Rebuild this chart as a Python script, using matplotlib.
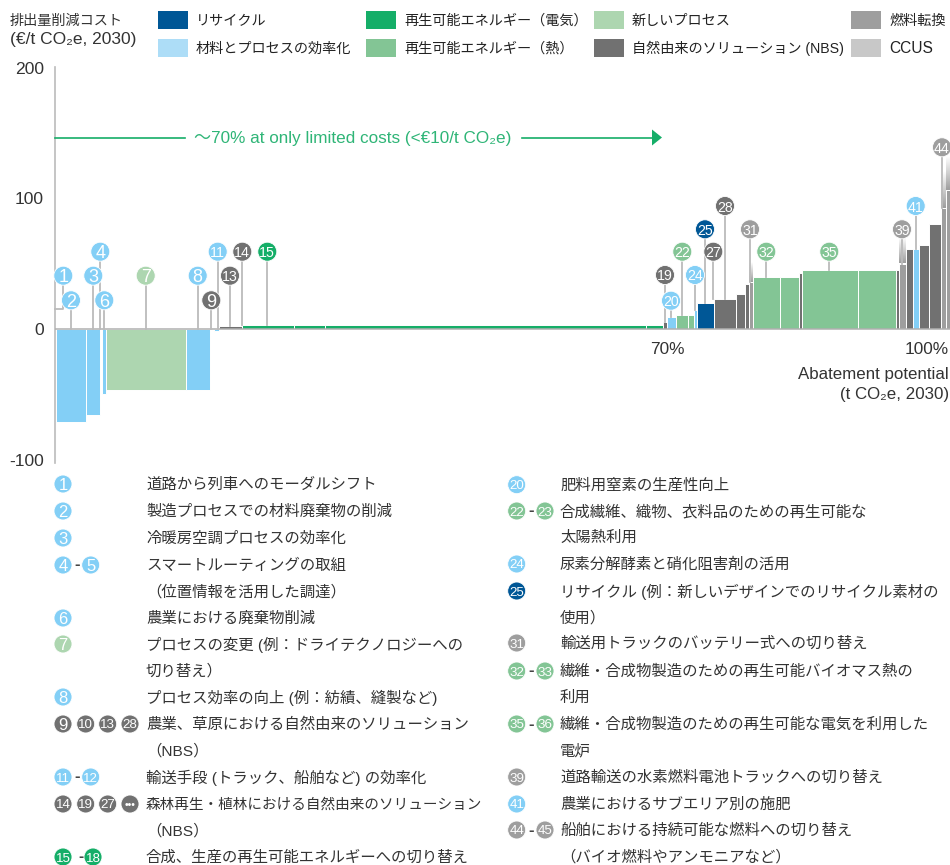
import numpy as np
import matplotlib
matplotlib.use("Agg")
import matplotlib.pyplot as plt
from matplotlib.patches import Circle, Rectangle

plt.rcParams["font.family"] = ["Liberation Sans", "Noto Sans CJK JP", "DejaVu Sans"]

# abatement curve: width in % of potential, cost in EUR/t, lever group
bar_widths = [0.15, 3.43, 1.60, 0.23, 0.48, 9.07, 2.79, 0.40, 0.61, 2.63,
              5.90, 3.59, 36.69, 2.04, 0.38, 1.05, 1.34, 0.69, 0.38, 1.91,
              2.61, 1.00, 0.38, 0.46, 3.18, 2.09, 0.37, 6.37, 4.35, 0.38,
              0.78, 0.87, 0.62, 1.17, 1.35, 0.56, 1.09]
bar_values = [-100, -71, -65.7, -0.3, -49.6, -46.3, -46.3, 0.5, -1.5, 2,
              3.4, 3.4, 3.4, 3.4, 5, 9, 10.7, 10.7, 14.3, 19.6,
              23, 27, 34, 36, 39.5, 39.5, 42.8, 44.8, 44.8, 44.8,
              50, 60.8, 60.8, 64.4, 80.4, 92, 106]
bar_groups = ["eff", "eff", "eff", "eff", "eff", "proc", "eff", "nbs", "eff", "nbs",
              "elec", "elec", "elec", "elec", "nbs", "eff", "heat", "heat", "eff", "rec",
              "nbs", "nbs", "nbs", "fuel", "heat", "heat", "nbs", "heat", "heat", "nbs",
              "fuel", "nbs", "eff", "nbs", "nbs", "fuel", "fuel"]

colors = {"rec": "#005796", "eff": "#83CFF6", "elec": "#15AE68", "heat": "#83C595",
          "proc": "#ADD6B0", "nbs": "#717171", "fuel": "#9E9E9E", "ccus": "#C8C8C8"}

legend_items = [("リサイクル", "rec", 158, 20), ("材料とプロセスの効率化", "eff_light", 158, 48),
                ("再生可能エネルギー（電気）", "elec", 366, 20), ("再生可能エネルギー（熱）", "heat", 366, 48),
                ("新しいプロセス", "proc", 594, 20), ("自然由来のソリューション (NBS)", "nbs", 594, 48),
                ("燃料転換", "fuel", 851, 20), ("CCUS", "ccus", 851, 48)]

# number, group, x, y, cost where the leader stops
chart_badges = [("1", "eff", 63.3, 275.7, 15), ("2", "eff", 71, 300.3, 0), ("3", "eff", 93.3, 275.7, 0),
                ("4", "eff", 100.3, 251.7, 0), ("6", "eff", 104.3, 300.3, 0), ("7", "proc", 145.7, 275.7, 0),
                ("8", "eff", 197.7, 275.7, 0), ("9", "nbs", 211.3, 300.3, 0), ("11", "eff", 217.7, 251.7, 0),
                ("13", "nbs", 230, 275.7, 2), ("14", "nbs", 242.3, 251.7, 3), ("15", "elec", 267.3, 251.7, 3.4),
                ("19", "nbs", 665, 275, 5), ("20", "eff", 671, 300.7, 9), ("22", "heat", 682.3, 251.7, 10.7),
                ("24", "eff", 695, 275, 14.3), ("25", "rec", 705, 229.3, 19.6), ("27", "nbs", 713.3, 251.7, 23),
                ("28", "nbs", 725, 206, 23), ("31", "fuel", 750, 229.3, 36), ("32", "heat", 766.3, 251.7, 39.5),
                ("35", "heat", 829.3, 251.7, 44.8), ("39", "fuel", 902, 229.3, 50), ("41", "eff", 915.7, 206, 60.8),
                ("44", "fuel", 942, 147.3, 92)]

# y, badges, text; badge tuples are number, group, x
left_rows = [
    (484, [("1", "eff", 63)], "道路から列車へのモーダルシフト"),
    (511, [("2", "eff", 63)], "製造プロセスでの材料廃棄物の削減"),
    (538, [("3", "eff", 63)], "冷暖房空調プロセスの効率化"),
    (565, [("4", "eff", 63), ("-", "", 76.7), ("5", "eff", 90.7)], "スマートルーティングの取組"),
    (591, [], "（位置情報を活用した調達）"),
    (618, [("6", "eff", 63)], "農業における廃棄物削減"),
    (644, [("7", "proc", 63)], "プロセスの変更 (例：ドライテクノロジーへの"),
    (670, [], "切り替え）"),
    (697, [("8", "eff", 63)], "プロセス効率の向上 (例：紡績、縫製など)"),
    (724, [("9", "nbs", 63), ("10", "nbs", 85.7), ("13", "nbs", 107.7), ("28", "nbs", 130)], "農業、草原における自然由来のソリューション"),
    (750, [], "（NBS）"),
    (777, [("11", "eff", 63), ("-", "", 76.7), ("12", "eff", 90.7)], "輸送手段 (トラック、船舶など) の効率化"),
    (804, [("14", "nbs", 63), ("19", "nbs", 85.7), ("27", "nbs", 107.7), ("•••", "nbs", 130)], "森林再生・植林における自然由来のソリューション"),
    (830, [], "（NBS）"),
    (857, [("15", "elec", 63), ("-", "", 80.7), ("18", "elec", 93)], "合成、生産の再生可能エネルギーへの切り替え"),
]
right_rows = [
    (484.7, [("20", "eff", 516.7)], "肥料用窒素の生産性向上"),
    (511, [("22", "heat", 516.7), ("-", "", 530.7), ("23", "heat", 545)], "合成繊維、織物、衣料品のための再生可能な"),
    (537, [], "太陽熱利用"),
    (564, [("24", "eff", 516.7)], "尿素分解酵素と硝化阻害剤の活用"),
    (591, [("25", "rec", 516.7)], "リサイクル (例：新しいデザインでのリサイクル素材の"),
    (617, [], "使用）"),
    (643, [("31", "fuel", 516.7)], "輸送用トラックのバッテリー式への切り替え"),
    (671, [("32", "heat", 516.7), ("-", "", 530.7), ("33", "heat", 545)], "繊維・合成物製造のための再生可能バイオマス熱の"),
    (697, [], "利用"),
    (724, [("35", "heat", 516.7), ("-", "", 530.7), ("36", "heat", 545)], "繊維・合成物製造のための再生可能な電気を利用した"),
    (750, [], "電炉"),
    (777, [("39", "fuel", 516.7)], "道路輸送の水素燃料電池トラックへの切り替え"),
    (804, [("41", "eff", 516.7)], "農業におけるサブエリア別の施肥"),
    (830, [("44", "fuel", 516.7), ("-", "", 530.7), ("45", "fuel", 545)], "船舶における持続可能な燃料への切り替え"),
    (856, [], "（バイオ燃料やアンモニアなど）"),
]

W, H = 950, 865
PX_PER_PCT, PX_PER_EUR = 8.74, 1.31
X0, Y0 = 55, 329
GREY_LINE = "#BBBBBB"
TXT = "#333333"


def yp(v):
    return Y0 - PX_PER_EUR * v


fig = plt.figure(figsize=(W / 100, H / 100), dpi=100)

# main chart, sits on the pixel grid of the figure
ax = fig.add_axes([X0 / W, 1 - 463 / H, (W - X0) / W, (463 - 67) / H])
ax.set_xlim(0, (W - X0) / PX_PER_PCT)
ax.set_ylim((Y0 - 463) / PX_PER_EUR, (Y0 - 67) / PX_PER_EUR)
lefts = np.concatenate([[0], np.cumsum(bar_widths)[:-1]])
ax.bar(lefts, bar_values, width=bar_widths, align="edge",
       color=[colors[g] for g in bar_groups], edgecolor="white", linewidth=0.7, zorder=2)
ax.axhline(0, color="#B0B0B0", lw=1.1, zorder=3)
ax.spines[["top", "right", "bottom"]].set_visible(False)
ax.spines["left"].set_color(GREY_LINE)
ax.spines["left"].set_linewidth(1.2)
ax.set_xticks([])
ax.set_yticks([])
ax.patch.set_alpha(0)

# overlay in pixels for everything around the bars
ov = fig.add_axes([0, 0, 1, 1])
ov.set_axis_off()


def label(x, y, s, size=10.2, color=TXT, ha="left", **kw):
    ov.text(x, y, s, fontsize=size, color=color, ha=ha, va="center", **kw)


def badge(x, y, s, group, r=9.5, size=13):
    ov.add_patch(Circle((x, y), r, fc=colors[group], ec="white", lw=0.6, zorder=6))
    ov.text(x, y, s, color="white", fontsize=size, ha="center", va="center_baseline", zorder=7)


def fade(x0, x1, y0, y1, color):
    # white at the top, fading into the grey of the bar
    rgba = np.ones((64, 1, 4))
    rgba[:, 0, :3] = matplotlib.colors.to_rgb(color)
    rgba[:, 0, 3] = np.linspace(0, 1, 64)
    ov.imshow(rgba, extent=(x0, x1, y1, y0), aspect="auto", zorder=3)


for s, g, x, y, end in chart_badges:
    if s == "1":
        ov.plot([x, x, X0], [y, yp(end), yp(end)], color=GREY_LINE, lw=1.3, zorder=4)
    else:
        ov.plot([x, x], [y, yp(end)], color=GREY_LINE, lw=1.3, zorder=4)
    badge(x, y, s, g, size=(13 if len(s) == 1 else 10.2))

fade(749, 752.5, 262, yp(36), "#9E9E9E")
fade(899, 905.5, 238, yp(50), "#9E9E9E")
fade(941, 945.5, 172, yp(92), "#9E9E9E")
fade(946, 950, 157, yp(106), "#9E9E9E")

# arrow across the first 70%
GREEN = "#15AE68"
ov.plot([X0, 185], [137.5, 137.5], color=GREEN, lw=1.2)
ov.plot([522, 652], [137.5, 137.5], color=GREEN, lw=1.2)
ov.fill([652, 662, 652], [129.5, 137.5, 145.5], color=GREEN, lw=0)
label(194, 138, "～70% at only limited costs (<€10/t CO₂e)", size=12.3, color="#2FB577")

# axis texts
label(10, 20.5, "排出量削減コスト")
label(10, 39.5, "(€/t CO₂e, 2030)", size=12.5)
for v, y in zip(["200", "100", "0", "-100"], [69.5, 199.5, 330.5, 461.5]):
    label(44, y, v, size=12.6, ha="right")
label(667, 349, "70%", size=12.4, ha="center")
label(949, 349, "100%", size=12.4, ha="right")
label(949, 374, "Abatement potential", size=12.2, ha="right")
label(949, 394, "(t CO₂e, 2030)", size=12.2, ha="right")

# legend
for s, g, x, y in legend_items:
    c = "#ADDDF7" if g == "eff_light" else colors[g]
    ov.add_patch(Rectangle((x, y - 9), 30, 18, fc=c, ec="none"))
    label(x + 38, y + 0.7, s, color="#222222", size=11.2 if s == "CCUS" else 10.2)

# numbered lists below the chart
for rows, tx in [(left_rows, 146), (right_rows, 560)]:
    for y, marks, s in rows:
        for m, g, x in marks:
            if m == "-":
                label(x, y, "-", size=12, ha="center", color="#444444", fontweight="bold")
            elif m == "•••":
                badge(x, y, m, g, r=9, size=7.5)
            else:
                badge(x, y, m, g, r=9, size=(12 if len(m) == 1 else 9.6))
        label(tx, y + 0.8, s, size=10.5 if s.startswith("森林") else 11.1)

ov.set_xlim(0, W)
ov.set_ylim(H, 0)
fig.savefig("out.png", dpi=100)
